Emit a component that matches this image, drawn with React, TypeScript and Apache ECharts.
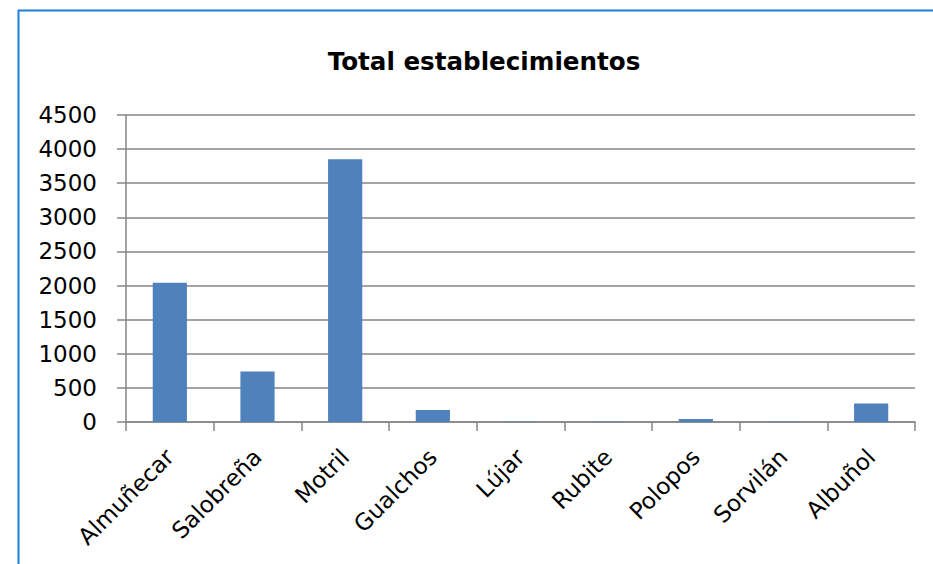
import React, { useEffect, useRef } from "react";
import * as echarts from "echarts";

const categories = ["Almuñecar", "Salobreña", "Motril", "Gualchos", "Lújar", "Rubite", "Polopos", "Sorvilán", "Albuñol"];
const values = [2040, 740, 3850, 175, 4, 3, 45, 4, 270];
const titleText = "Total establecimientos";

export default function App() {
  const ref = useRef<HTMLDivElement>(null);
  useEffect(() => {
    if (!ref.current) return;
    const chart = echarts.init(ref.current, null, { renderer: "svg" });
    const axisColor = "#868686";
    chart.setOption({
      animation: false,
      backgroundColor: "#ffffff",
      title: {
        text: titleText,
        left: 479,
        top: 44,
        textAlign: "center",
        textStyle: { fontFamily: "DejaVu Sans", fontWeight: "bold", fontSize: 24.6, color: "#000" },
      },
      graphic: [
        {
          type: "polyline",
          shape: { points: [[18.5, 564], [18.5, 10.5], [933, 10.5]] },
          style: { stroke: "#1f7fd8", lineWidth: 2, fill: "none" },
          silent: true,
        },
      ],
      grid: { left: 126, right: 18, top: 115, bottom: 142, containLabel: false },
      xAxis: {
        type: "category",
        data: categories,
        boundaryGap: true,
        axisLine: { show: true, lineStyle: { color: axisColor, width: 1.5 } },
        axisTick: { show: true, alignWithLabel: false, length: 9, lineStyle: { color: axisColor, width: 1.5 } },
        axisLabel: { rotate: 45, fontFamily: "DejaVu Sans", fontSize: 23, color: "#000", margin: 31, interval: 0 },
      },
      yAxis: {
        type: "value",
        min: 0,
        max: 4500,
        interval: 500,
        axisLine: { show: true, lineStyle: { color: axisColor, width: 1.5 } },
        axisTick: { show: true, length: 9, lineStyle: { color: axisColor, width: 1.5 } },
        splitLine: { show: true, lineStyle: { color: axisColor, width: 1.5 } },
        axisLabel: {
          fontFamily: "DejaVu Sans",
          fontSize: 23,
          color: "#000",
          margin: 29,
          formatter: (v: number) => String(v),
        },
      },
      series: [
        {
          type: "bar",
          data: values,
          barWidth: "39%",
          itemStyle: { color: "#4f81bd" },
        },
      ],
    });
    return () => chart.dispose();
  }, []);
  return <div ref={ref} style={{ position: "fixed", left: 0, top: 0, width: 933, height: 564 }} />;
}
